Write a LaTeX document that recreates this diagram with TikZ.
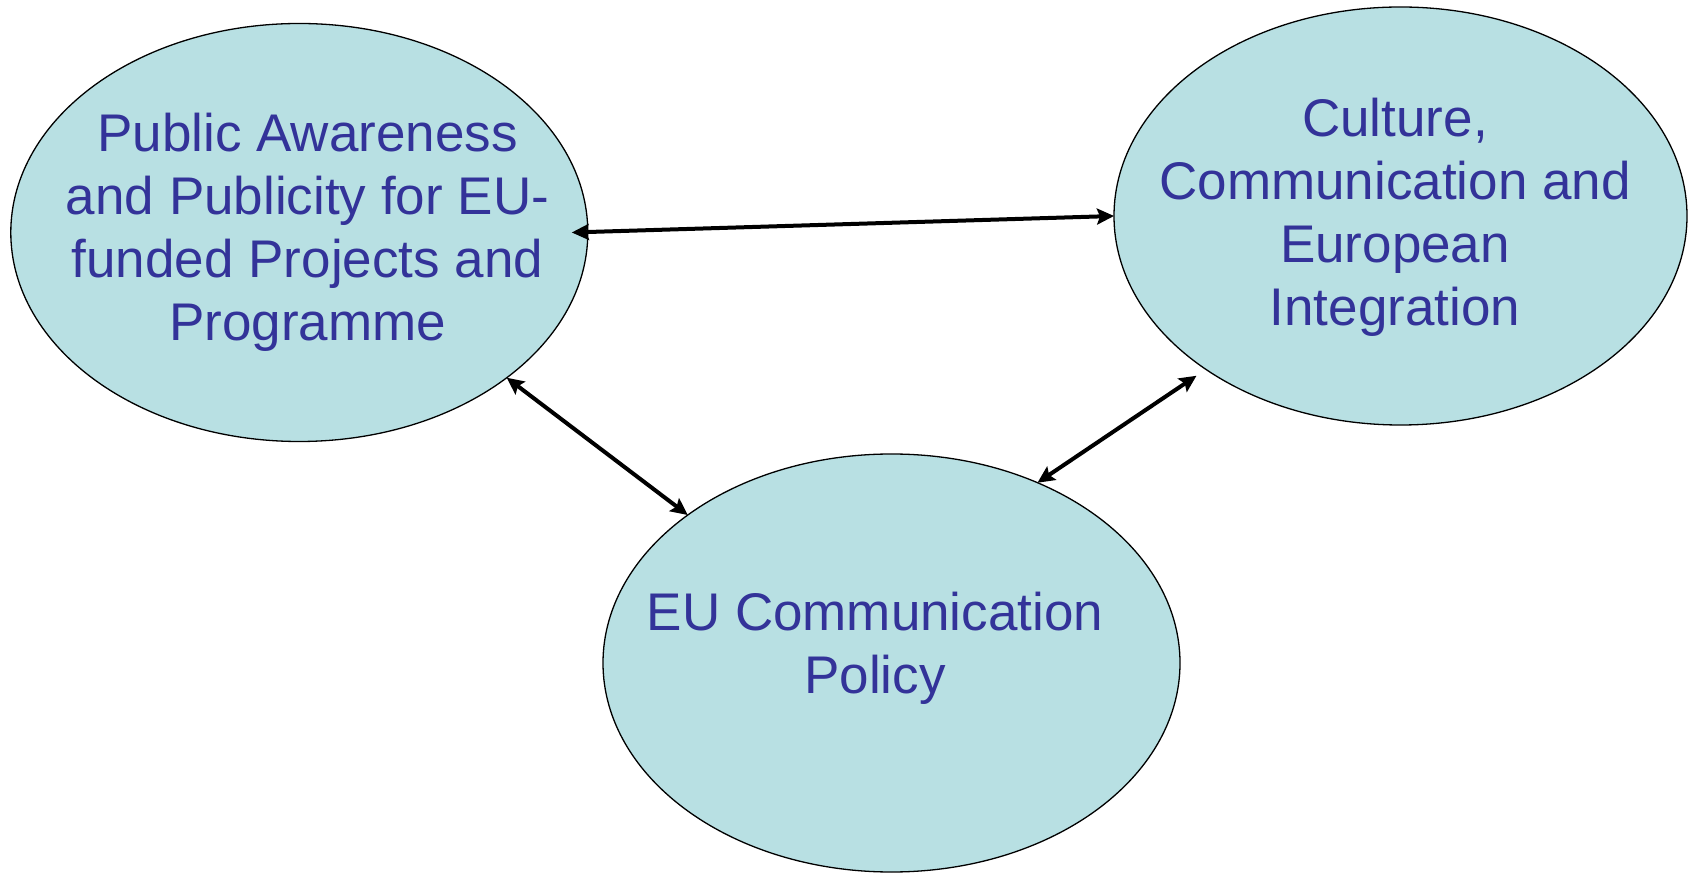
\documentclass[tikz,border=0pt]{standalone}
\usepackage{fontspec}
\setmainfont{Liberation Sans}
\usetikzlibrary{shapes.geometric,arrows.meta}
\definecolor{bubblefill}{RGB}{184,224,227}
\definecolor{labelblue}{RGB}{51,51,153}
\begin{document}
\begin{tikzpicture}[x=1pt,y=1pt,
  bubble/.style={ellipse, draw=black, line width=1.3pt, fill=bubblefill,
    inner sep=0pt, outer sep=0pt, minimum height=418pt},
  caption/.style={text=labelblue, align=center, inner sep=0pt,
    font=\fontsize{53}{63}\selectfont},
  link/.style={line width=4pt,
    {Stealth[length=17pt,width=16pt,inset=3pt]}-{Stealth[length=17pt,width=16pt,inset=3pt]}}]
  \useasboundingbox (0,0) rectangle (1688,873);

  % the three topic bubbles
  \node[bubble, minimum width=577pt] (L) at (299.3,640.5) {};
  \node[bubble, minimum width=573pt] (R) at (1400.5,657) {};
  \node[bubble, minimum width=577pt] (B) at (891.5,210) {};

  % their captions
  \node[caption] (Ltext) at (307.5,641) {Public Awareness\\and Publicity for EU-\\funded Projects and\\Programme};
  \node[caption] (Rtext) at (1395,656) {Culture,\\Communication and\\European\\Integration};
  \node[caption] (Btext) at (875,225) {EU Communication\\Policy};

  % two-way links between the topics
  \draw[link] ([xshift=-16pt]L.-0.5) -- (R.180.4);
  \draw[link] (L.-35.7) -- (B.144.4);
  \draw[link] (B.51) -- ([shift={(-8.5pt,-7pt)}]R.218.6);
\end{tikzpicture}
\end{document}
